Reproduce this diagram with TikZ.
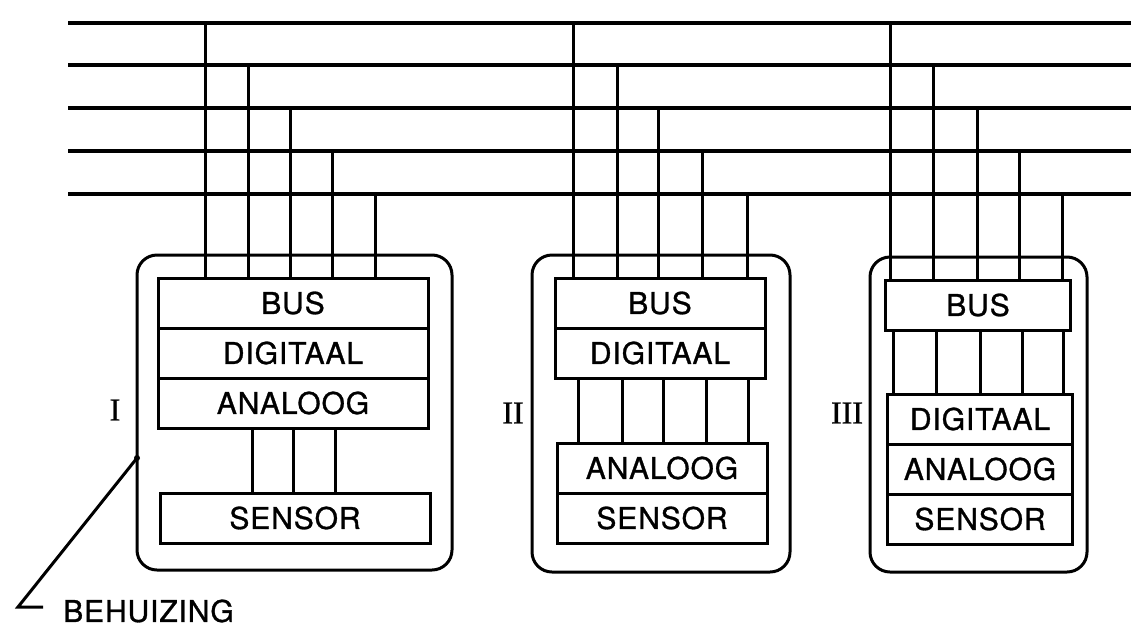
\documentclass[tikz,border=0pt]{standalone}
\usepackage{fontspec}
\setmainfont[LetterSpace=3, FakeBold=1]{TeX Gyre Heros}
\newfontfamily\romfont[FakeBold=1]{Liberation Serif}
\usetikzlibrary{positioning}

\tikzset{
  laag/.style={draw, line width=3pt, outer sep=0pt, inner sep=0pt,
    minimum height=50pt, font=\fontsize{30}{30}\selectfont},
  behuizing/.style={line width=3pt, rounded corners=20pt},
  lijn/.style={line width=3pt},
  buslijn/.style={line width=3.2pt},
  nummer/.style={font=\romfont\fontsize{32}{32}\selectfont},
  opschrift/.style={inner sep=0pt, anchor=west, font=\fontsize{30}{30}\selectfont}
}

\begin{document}
\begin{tikzpicture}[x=1pt, y=-1pt]
  \useasboundingbox (0,0) rectangle (1131,627);

  % buslijnen
  \foreach \y [count=\i] in {23,65,108,151,194}
    \draw[buslijn] (68,\y) coordinate (b\i) -- (1131,\y);

  % module I
  \draw[behuizing] (137,255) rectangle (452,570);
  \node[laag, minimum width=270pt] (busI) at (293,303) {BUS};
  \node[laag, minimum width=270pt, below=0pt of busI] (digI) {DIGITAAL};
  \node[laag, minimum width=270pt, below=0pt of digI] (anaI) {ANALOOG};
  \node[laag, minimum width=270pt] (senI) at (295,518) {SENSOR};
  \node[nummer] (nI) at (115,410) {I};
  \foreach \x [count=\i] in {205,248,290,332,375}
    \draw[lijn] (\x,0 |- b\i) -- (\x,0 |- busI.north);
  \foreach \x in {252,293,335}
    \draw[lijn] (\x,0 |- anaI.south) -- (\x,0 |- senI.north);

  % module II
  \draw[behuizing] (532,255) rectangle (790,572);
  \node[laag, minimum width=210pt] (busII) at (660,303) {BUS};
  \node[laag, minimum width=210pt, below=0pt of busII] (digII) {DIGITAAL};
  \node[laag, minimum width=210pt] (anaII) at (662,468) {ANALOOG};
  \node[laag, minimum width=210pt, below=0pt of anaII] (senII) {SENSOR};
  \node[nummer] (nII) at (513,413) {II};
  \foreach \x [count=\i] in {573,617,658,702,747}
    \draw[lijn] (\x,0 |- b\i) -- (\x,0 |- busII.north);
  \foreach \x in {578,622,663,706,748}
    \draw[lijn] (\x,0 |- digII.south) -- (\x,0 |- anaII.north);

  % module III
  \draw[behuizing] (870,257) rectangle (1087,572);
  \node[laag, minimum width=185pt] (busIII) at (978,305) {BUS};
  \node[laag, minimum width=185pt] (digIII) at (980,419) {DIGITAAL};
  \node[laag, minimum width=185pt, below=0pt of digIII] (anaIII) {ANALOOG};
  \node[laag, minimum width=185pt, below=0pt of anaIII] (senIII) {SENSOR};
  \node[nummer] (nIII) at (847,413) {III};
  \foreach \x [count=\i] in {890,933,977,1019,1062}
    \draw[lijn] (\x,0 |- b\i) -- (\x,0 |- busIII.north);
  \foreach \x in {893,936,980,1022,1063}
    \draw[lijn] (\x,0 |- busIII.south) -- (\x,0 |- digIII.north);

  % behuizing
  \coordinate (punt) at (137,458);
  \coordinate (knik) at (18,607);
  \fill (punt) circle (3pt);
  \node[opschrift] (tekst) at (63,611) {BEHUIZING};
  \draw[lijn] (punt) -- (knik) -- ++(25,0);
\end{tikzpicture}
\end{document}
